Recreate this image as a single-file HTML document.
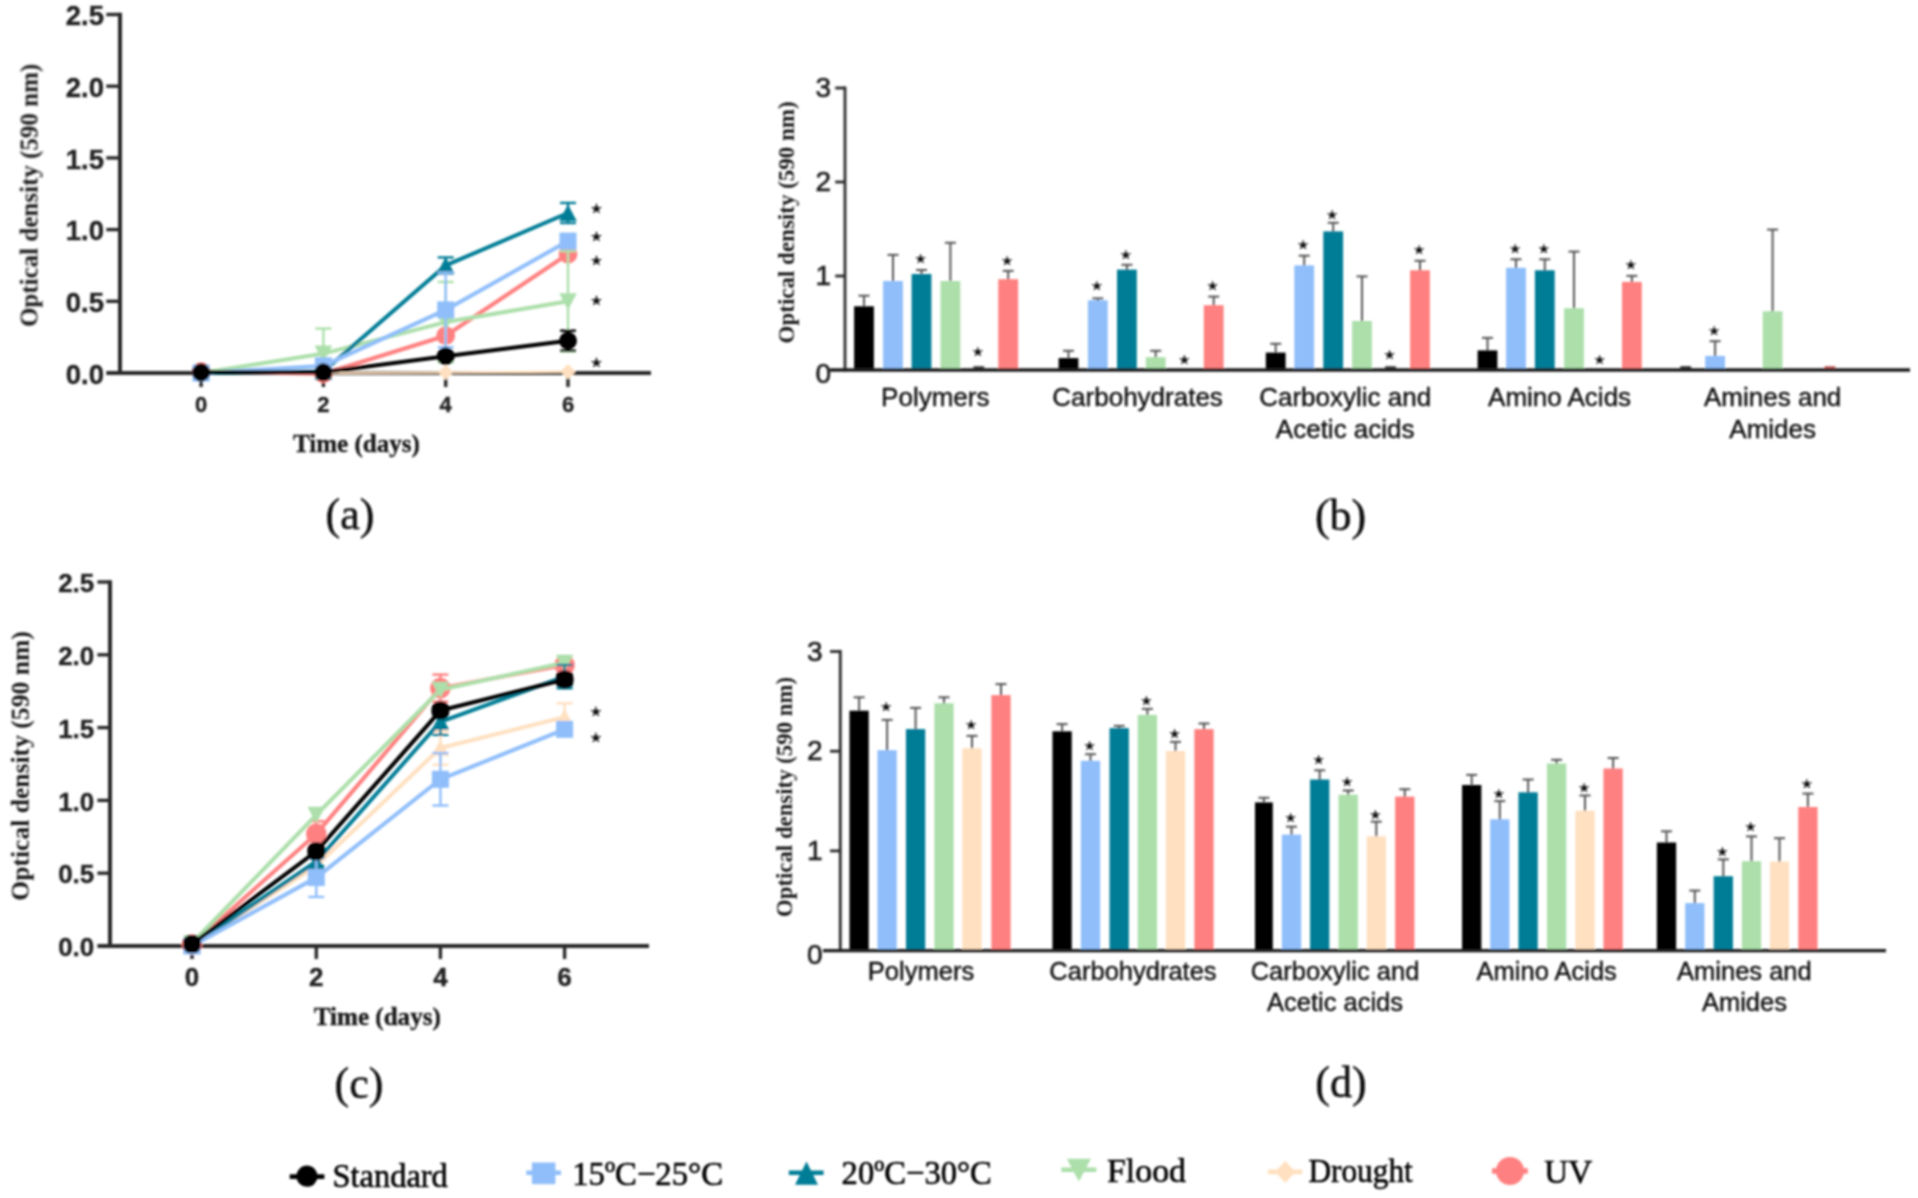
<!DOCTYPE html>
<html lang="en"><head><meta charset="utf-8"><title>Figure</title>
<style>html,body{margin:0;padding:0;background:#fff;}svg{display:block;}</style></head>
<body>
<svg width="1918" height="1198" viewBox="0 0 1918 1198">
<defs><filter id="soft" x="0" y="0" width="100%" height="100%" filterUnits="userSpaceOnUse"><feGaussianBlur stdDeviation="1.05"/></filter></defs>
<rect width="1918" height="1198" fill="#ffffff"/>
<g filter="url(#soft)">
<line x1="120" y1="12.8" x2="120" y2="375" stroke="#2b2b2b" stroke-width="4" stroke-linecap="butt"/>
<line x1="106.3" y1="373" x2="651" y2="373" stroke="#2b2b2b" stroke-width="4" stroke-linecap="butt"/>
<line x1="106.3" y1="301.3" x2="120" y2="301.3" stroke="#2b2b2b" stroke-width="3.4" stroke-linecap="butt"/>
<line x1="106.3" y1="229.6" x2="120" y2="229.6" stroke="#2b2b2b" stroke-width="3.4" stroke-linecap="butt"/>
<line x1="106.3" y1="157.9" x2="120" y2="157.9" stroke="#2b2b2b" stroke-width="3.4" stroke-linecap="butt"/>
<line x1="106.3" y1="86.2" x2="120" y2="86.2" stroke="#2b2b2b" stroke-width="3.4" stroke-linecap="butt"/>
<line x1="106.3" y1="14.5" x2="120" y2="14.5" stroke="#2b2b2b" stroke-width="3.4" stroke-linecap="butt"/>
<line x1="201.1" y1="373" x2="201.1" y2="387" stroke="#2b2b2b" stroke-width="3.4" stroke-linecap="butt"/>
<line x1="323.4" y1="373" x2="323.4" y2="387" stroke="#2b2b2b" stroke-width="3.4" stroke-linecap="butt"/>
<line x1="445.7" y1="373" x2="445.7" y2="387" stroke="#2b2b2b" stroke-width="3.4" stroke-linecap="butt"/>
<line x1="568" y1="373" x2="568" y2="387" stroke="#2b2b2b" stroke-width="3.4" stroke-linecap="butt"/>
<polyline points="201.1,371.57 323.4,373.72 445.7,335.72 568,253.98" fill="none" stroke="#FF8080" stroke-width="4" stroke-linejoin="round"/>
<circle cx="201.1" cy="371.57" r="9.4" fill="#FF8080"/>
<circle cx="323.4" cy="373.72" r="9.4" fill="#FF8080"/>
<circle cx="445.7" cy="335.72" r="9.4" fill="#FF8080"/>
<circle cx="568" cy="253.98" r="9.4" fill="#FF8080"/>
<polyline points="201.1,373 323.4,373 445.7,372.28 568,371.57" fill="none" stroke="#FFE0C0" stroke-width="2.2" stroke-linejoin="round"/>
<polygon points="201.1,365.4 208.7,373 201.1,380.6 193.5,373" fill="#FFE0C0"/>
<polygon points="323.4,365.4 331,373 323.4,380.6 315.8,373" fill="#FFE0C0"/>
<polygon points="445.7,364.68 453.3,372.28 445.7,379.88 438.1,372.28" fill="#FFE0C0"/>
<polygon points="568,363.97 575.6,371.57 568,379.17 560.4,371.57" fill="#FFE0C0"/>
<line x1="323.4" y1="328.55" x2="323.4" y2="378.74" stroke="#ACDFAA" stroke-width="2.4" stroke-linecap="butt"/>
<line x1="315.4" y1="328.55" x2="331.4" y2="328.55" stroke="#ACDFAA" stroke-width="2.4" stroke-linecap="butt"/>
<line x1="315.4" y1="378.74" x2="331.4" y2="378.74" stroke="#ACDFAA" stroke-width="2.4" stroke-linecap="butt"/>
<line x1="445.7" y1="281.94" x2="445.7" y2="362.25" stroke="#ACDFAA" stroke-width="2.4" stroke-linecap="butt"/>
<line x1="437.7" y1="281.94" x2="453.7" y2="281.94" stroke="#ACDFAA" stroke-width="2.4" stroke-linecap="butt"/>
<line x1="437.7" y1="362.25" x2="453.7" y2="362.25" stroke="#ACDFAA" stroke-width="2.4" stroke-linecap="butt"/>
<line x1="568" y1="251.11" x2="568" y2="351.49" stroke="#ACDFAA" stroke-width="2.4" stroke-linecap="butt"/>
<line x1="560" y1="251.11" x2="576" y2="251.11" stroke="#ACDFAA" stroke-width="2.4" stroke-linecap="butt"/>
<line x1="560" y1="351.49" x2="576" y2="351.49" stroke="#ACDFAA" stroke-width="2.4" stroke-linecap="butt"/>
<polyline points="201.1,373 323.4,353.64 445.7,322.09 568,301.3" fill="none" stroke="#ACDFAA" stroke-width="4" stroke-linejoin="round"/>
<polygon points="201.1,381.62 209.9,364.9 192.3,364.9" fill="#ACDFAA"/>
<polygon points="323.4,362.27 332.2,345.55 314.6,345.55" fill="#ACDFAA"/>
<polygon points="445.7,330.72 454.5,314 436.9,314" fill="#ACDFAA"/>
<polygon points="568,309.92 576.8,293.2 559.2,293.2" fill="#ACDFAA"/>
<line x1="445.7" y1="257.42" x2="445.7" y2="273.48" stroke="#057D96" stroke-width="2.4" stroke-linecap="butt"/>
<line x1="437.7" y1="257.42" x2="453.7" y2="257.42" stroke="#057D96" stroke-width="2.4" stroke-linecap="butt"/>
<line x1="437.7" y1="273.48" x2="453.7" y2="273.48" stroke="#057D96" stroke-width="2.4" stroke-linecap="butt"/>
<line x1="568" y1="202.93" x2="568" y2="223" stroke="#057D96" stroke-width="2.4" stroke-linecap="butt"/>
<line x1="560" y1="202.93" x2="576" y2="202.93" stroke="#057D96" stroke-width="2.4" stroke-linecap="butt"/>
<line x1="560" y1="223" x2="576" y2="223" stroke="#057D96" stroke-width="2.4" stroke-linecap="butt"/>
<polyline points="201.1,373 323.4,371.57 445.7,265.45 568,212.97" fill="none" stroke="#057D96" stroke-width="4" stroke-linejoin="round"/>
<polygon points="201.1,364.64 209.9,381.1 192.3,381.1" fill="#057D96"/>
<polygon points="323.4,363.21 332.2,379.66 314.6,379.66" fill="#057D96"/>
<polygon points="445.7,257.09 454.5,273.55 436.9,273.55" fill="#057D96"/>
<polygon points="568,204.61 576.8,221.06 559.2,221.06" fill="#057D96"/>
<line x1="445.7" y1="272.62" x2="445.7" y2="347.19" stroke="#8FBEFA" stroke-width="2.4" stroke-linecap="butt"/>
<line x1="437.7" y1="272.62" x2="453.7" y2="272.62" stroke="#8FBEFA" stroke-width="2.4" stroke-linecap="butt"/>
<line x1="437.7" y1="347.19" x2="453.7" y2="347.19" stroke="#8FBEFA" stroke-width="2.4" stroke-linecap="butt"/>
<polyline points="201.1,373 323.4,365.83 445.7,309.9 568,241.07" fill="none" stroke="#8FBEFA" stroke-width="4" stroke-linejoin="round"/>
<rect x="192.6" y="364.5" width="17" height="17" fill="#8FBEFA"/>
<rect x="314.9" y="357.33" width="17" height="17" fill="#8FBEFA"/>
<rect x="437.2" y="301.4" width="17" height="17" fill="#8FBEFA"/>
<rect x="559.5" y="232.57" width="17" height="17" fill="#8FBEFA"/>
<line x1="568" y1="330.7" x2="568" y2="350.77" stroke="#000000" stroke-width="2.4" stroke-linecap="butt"/>
<line x1="560" y1="330.7" x2="576" y2="330.7" stroke="#000000" stroke-width="2.4" stroke-linecap="butt"/>
<line x1="560" y1="350.77" x2="576" y2="350.77" stroke="#000000" stroke-width="2.4" stroke-linecap="butt"/>
<polyline points="201.1,372.28 323.4,372.28 445.7,356.22 568,340.74" fill="none" stroke="#000000" stroke-width="4" stroke-linejoin="round"/>
<circle cx="201.1" cy="372.28" r="9" fill="#000000"/>
<circle cx="323.4" cy="372.28" r="9" fill="#000000"/>
<circle cx="445.7" cy="356.22" r="9" fill="#000000"/>
<circle cx="568" cy="340.74" r="9" fill="#000000"/>
<text x="596.5" y="213.25" font-family="'DejaVu Sans', sans-serif" font-size="13.2" font-weight="normal" text-anchor="middle" fill="#111" stroke="#111" stroke-width="0.35">★</text>
<text x="596.5" y="240.75" font-family="'DejaVu Sans', sans-serif" font-size="13.2" font-weight="normal" text-anchor="middle" fill="#111" stroke="#111" stroke-width="0.35">★</text>
<text x="596.5" y="264.75" font-family="'DejaVu Sans', sans-serif" font-size="13.2" font-weight="normal" text-anchor="middle" fill="#111" stroke="#111" stroke-width="0.35">★</text>
<text x="596.5" y="304.75" font-family="'DejaVu Sans', sans-serif" font-size="13.2" font-weight="normal" text-anchor="middle" fill="#111" stroke="#111" stroke-width="0.35">★</text>
<text x="596.5" y="367.45" font-family="'DejaVu Sans', sans-serif" font-size="13.2" font-weight="normal" text-anchor="middle" fill="#111" stroke="#111" stroke-width="0.35">★</text>
<text x="104" y="383.8" font-family="'Liberation Sans', sans-serif" font-size="27.5" font-weight="bold" text-anchor="end" fill="#222222" stroke="#222222" stroke-width="0.35">0.0</text>
<text x="104" y="312.1" font-family="'Liberation Sans', sans-serif" font-size="27.5" font-weight="bold" text-anchor="end" fill="#222222" stroke="#222222" stroke-width="0.35">0.5</text>
<text x="104" y="240.4" font-family="'Liberation Sans', sans-serif" font-size="27.5" font-weight="bold" text-anchor="end" fill="#222222" stroke="#222222" stroke-width="0.35">1.0</text>
<text x="104" y="168.7" font-family="'Liberation Sans', sans-serif" font-size="27.5" font-weight="bold" text-anchor="end" fill="#222222" stroke="#222222" stroke-width="0.35">1.5</text>
<text x="104" y="97" font-family="'Liberation Sans', sans-serif" font-size="27.5" font-weight="bold" text-anchor="end" fill="#222222" stroke="#222222" stroke-width="0.35">2.0</text>
<text x="104" y="25.3" font-family="'Liberation Sans', sans-serif" font-size="27.5" font-weight="bold" text-anchor="end" fill="#222222" stroke="#222222" stroke-width="0.35">2.5</text>
<text x="201.1" y="412.2" font-family="'Liberation Sans', sans-serif" font-size="22" font-weight="bold" text-anchor="middle" fill="#222222" stroke="#222222" stroke-width="0.35">0</text>
<text x="323.4" y="412.2" font-family="'Liberation Sans', sans-serif" font-size="22" font-weight="bold" text-anchor="middle" fill="#222222" stroke="#222222" stroke-width="0.35">2</text>
<text x="445.7" y="412.2" font-family="'Liberation Sans', sans-serif" font-size="22" font-weight="bold" text-anchor="middle" fill="#222222" stroke="#222222" stroke-width="0.35">4</text>
<text x="568" y="412.2" font-family="'Liberation Sans', sans-serif" font-size="22" font-weight="bold" text-anchor="middle" fill="#222222" stroke="#222222" stroke-width="0.35">6</text>
<text x="356.4" y="451.7" font-family="'Liberation Serif', serif" font-size="25" font-weight="bold" text-anchor="middle" fill="#1a1a1a" textLength="127" lengthAdjust="spacingAndGlyphs" stroke="#1a1a1a" stroke-width="0.35">Time (days)</text>
<text transform="translate(37.6,195.4) rotate(-90)" font-family="'Liberation Serif', serif" font-size="25" font-weight="bold" text-anchor="middle" fill="#1a1a1a">Optical density (590 nm)</text>
<text x="350" y="528.5" font-family="'Liberation Serif', serif" font-size="44" font-weight="normal" text-anchor="middle" fill="#111" stroke="#111" stroke-width="0.5">(a)</text>
<line x1="110" y1="580.3" x2="110" y2="948" stroke="#2b2b2b" stroke-width="4" stroke-linecap="butt"/>
<line x1="97.4" y1="946" x2="649" y2="946" stroke="#2b2b2b" stroke-width="4" stroke-linecap="butt"/>
<line x1="97.4" y1="873.2" x2="110" y2="873.2" stroke="#2b2b2b" stroke-width="3.4" stroke-linecap="butt"/>
<line x1="97.4" y1="800.4" x2="110" y2="800.4" stroke="#2b2b2b" stroke-width="3.4" stroke-linecap="butt"/>
<line x1="97.4" y1="727.6" x2="110" y2="727.6" stroke="#2b2b2b" stroke-width="3.4" stroke-linecap="butt"/>
<line x1="97.4" y1="654.8" x2="110" y2="654.8" stroke="#2b2b2b" stroke-width="3.4" stroke-linecap="butt"/>
<line x1="97.4" y1="582" x2="110" y2="582" stroke="#2b2b2b" stroke-width="3.4" stroke-linecap="butt"/>
<line x1="192" y1="946" x2="192" y2="959" stroke="#2b2b2b" stroke-width="3.4" stroke-linecap="butt"/>
<line x1="316.3" y1="946" x2="316.3" y2="959" stroke="#2b2b2b" stroke-width="3.4" stroke-linecap="butt"/>
<line x1="440.4" y1="946" x2="440.4" y2="959" stroke="#2b2b2b" stroke-width="3.4" stroke-linecap="butt"/>
<line x1="564.6" y1="946" x2="564.6" y2="959" stroke="#2b2b2b" stroke-width="3.4" stroke-linecap="butt"/>
<line x1="316.3" y1="821.22" x2="316.3" y2="846.56" stroke="#FF8080" stroke-width="2.4" stroke-linecap="butt"/>
<line x1="308.3" y1="821.22" x2="324.3" y2="821.22" stroke="#FF8080" stroke-width="2.4" stroke-linecap="butt"/>
<line x1="308.3" y1="846.56" x2="324.3" y2="846.56" stroke="#FF8080" stroke-width="2.4" stroke-linecap="butt"/>
<line x1="440.4" y1="674.6" x2="440.4" y2="701.68" stroke="#FF8080" stroke-width="2.4" stroke-linecap="butt"/>
<line x1="432.4" y1="674.6" x2="448.4" y2="674.6" stroke="#FF8080" stroke-width="2.4" stroke-linecap="butt"/>
<line x1="432.4" y1="701.68" x2="448.4" y2="701.68" stroke="#FF8080" stroke-width="2.4" stroke-linecap="butt"/>
<polyline points="192,944.54 316.3,833.89 440.4,688.14 564.6,664.99" fill="none" stroke="#FF8080" stroke-width="4" stroke-linejoin="round"/>
<circle cx="192" cy="944.54" r="10.3" fill="#FF8080"/>
<circle cx="316.3" cy="833.89" r="10.3" fill="#FF8080"/>
<circle cx="440.4" cy="688.14" r="10.3" fill="#FF8080"/>
<circle cx="564.6" cy="664.99" r="10.3" fill="#FF8080"/>
<line x1="440.4" y1="731.24" x2="440.4" y2="764.73" stroke="#FFE0C0" stroke-width="2.4" stroke-linecap="butt"/>
<line x1="432.4" y1="731.24" x2="448.4" y2="731.24" stroke="#FFE0C0" stroke-width="2.4" stroke-linecap="butt"/>
<line x1="432.4" y1="764.73" x2="448.4" y2="764.73" stroke="#FFE0C0" stroke-width="2.4" stroke-linecap="butt"/>
<line x1="564.6" y1="703.28" x2="564.6" y2="730.95" stroke="#FFE0C0" stroke-width="2.4" stroke-linecap="butt"/>
<line x1="556.6" y1="703.28" x2="572.6" y2="703.28" stroke="#FFE0C0" stroke-width="2.4" stroke-linecap="butt"/>
<line x1="556.6" y1="730.95" x2="572.6" y2="730.95" stroke="#FFE0C0" stroke-width="2.4" stroke-linecap="butt"/>
<polyline points="192,946 316.3,865.92 440.4,747.98 564.6,717.12" fill="none" stroke="#FFE0C0" stroke-width="4" stroke-linejoin="round"/>
<polygon points="192,937.64 200.8,954.1 183.2,954.1" fill="#FFE0C0"/>
<polygon points="316.3,857.56 325.1,874.02 307.5,874.02" fill="#FFE0C0"/>
<polygon points="440.4,739.62 449.2,756.08 431.6,756.08" fill="#FFE0C0"/>
<polygon points="564.6,708.76 573.4,725.21 555.8,725.21" fill="#FFE0C0"/>
<polyline points="192,943.09 316.3,814.96 440.4,689.74 564.6,662.81" fill="none" stroke="#ACDFAA" stroke-width="4" stroke-linejoin="round"/>
<polygon points="192,951.71 200.8,934.99 183.2,934.99" fill="#ACDFAA"/>
<polygon points="316.3,823.58 325.1,806.86 307.5,806.86" fill="#ACDFAA"/>
<polygon points="440.4,698.37 449.2,681.65 431.6,681.65" fill="#ACDFAA"/>
<polygon points="564.6,671.43 573.4,654.71 555.8,654.71" fill="#ACDFAA"/>
<line x1="316.3" y1="857.18" x2="316.3" y2="865.92" stroke="#057D96" stroke-width="2.4" stroke-linecap="butt"/>
<line x1="308.3" y1="857.18" x2="324.3" y2="857.18" stroke="#057D96" stroke-width="2.4" stroke-linecap="butt"/>
<line x1="308.3" y1="865.92" x2="324.3" y2="865.92" stroke="#057D96" stroke-width="2.4" stroke-linecap="butt"/>
<line x1="440.4" y1="708.67" x2="440.4" y2="734.88" stroke="#057D96" stroke-width="2.4" stroke-linecap="butt"/>
<line x1="432.4" y1="708.67" x2="448.4" y2="708.67" stroke="#057D96" stroke-width="2.4" stroke-linecap="butt"/>
<line x1="432.4" y1="734.88" x2="448.4" y2="734.88" stroke="#057D96" stroke-width="2.4" stroke-linecap="butt"/>
<line x1="564.6" y1="664.99" x2="564.6" y2="688.29" stroke="#057D96" stroke-width="2.4" stroke-linecap="butt"/>
<line x1="556.6" y1="664.99" x2="572.6" y2="664.99" stroke="#057D96" stroke-width="2.4" stroke-linecap="butt"/>
<line x1="556.6" y1="688.29" x2="572.6" y2="688.29" stroke="#057D96" stroke-width="2.4" stroke-linecap="butt"/>
<polyline points="192,946 316.3,861.55 440.4,721.78 564.6,676.64" fill="none" stroke="#057D96" stroke-width="4" stroke-linejoin="round"/>
<polygon points="192,937.64 200.8,954.1 183.2,954.1" fill="#057D96"/>
<polygon points="316.3,853.19 325.1,869.65 307.5,869.65" fill="#057D96"/>
<polygon points="440.4,713.42 449.2,729.87 431.6,729.87" fill="#057D96"/>
<polygon points="564.6,668.28 573.4,684.74 555.8,684.74" fill="#057D96"/>
<line x1="316.3" y1="858.2" x2="316.3" y2="896.93" stroke="#8FBEFA" stroke-width="2.4" stroke-linecap="butt"/>
<line x1="308.3" y1="858.2" x2="324.3" y2="858.2" stroke="#8FBEFA" stroke-width="2.4" stroke-linecap="butt"/>
<line x1="308.3" y1="896.93" x2="324.3" y2="896.93" stroke="#8FBEFA" stroke-width="2.4" stroke-linecap="butt"/>
<line x1="440.4" y1="753.08" x2="440.4" y2="805.5" stroke="#8FBEFA" stroke-width="2.4" stroke-linecap="butt"/>
<line x1="432.4" y1="753.08" x2="448.4" y2="753.08" stroke="#8FBEFA" stroke-width="2.4" stroke-linecap="butt"/>
<line x1="432.4" y1="805.5" x2="448.4" y2="805.5" stroke="#8FBEFA" stroke-width="2.4" stroke-linecap="butt"/>
<polyline points="192,946 316.3,877.57 440.4,779.29 564.6,729.35" fill="none" stroke="#8FBEFA" stroke-width="4" stroke-linejoin="round"/>
<rect x="183.5" y="937.5" width="17" height="17" fill="#8FBEFA"/>
<rect x="307.8" y="869.07" width="17" height="17" fill="#8FBEFA"/>
<rect x="431.9" y="770.79" width="17" height="17" fill="#8FBEFA"/>
<rect x="556.1" y="720.85" width="17" height="17" fill="#8FBEFA"/>
<line x1="564.6" y1="673.73" x2="564.6" y2="685.38" stroke="#000000" stroke-width="2.4" stroke-linecap="butt"/>
<line x1="556.6" y1="673.73" x2="572.6" y2="673.73" stroke="#000000" stroke-width="2.4" stroke-linecap="butt"/>
<line x1="556.6" y1="685.38" x2="572.6" y2="685.38" stroke="#000000" stroke-width="2.4" stroke-linecap="butt"/>
<polyline points="192,944.11 316.3,851.36 440.4,710.56 564.6,679.55" fill="none" stroke="#000000" stroke-width="4" stroke-linejoin="round"/>
<rect x="183" y="935.11" width="18" height="18" rx="7.5" fill="#000000"/>
<rect x="307.3" y="842.36" width="18" height="18" rx="7.5" fill="#000000"/>
<rect x="431.4" y="701.56" width="18" height="18" rx="7.5" fill="#000000"/>
<rect x="555.6" y="670.55" width="18" height="18" rx="7.5" fill="#000000"/>
<text x="596" y="716.15" font-family="'DejaVu Sans', sans-serif" font-size="13.2" font-weight="normal" text-anchor="middle" fill="#111" stroke="#111" stroke-width="0.35">★</text>
<text x="596" y="741.75" font-family="'DejaVu Sans', sans-serif" font-size="13.2" font-weight="normal" text-anchor="middle" fill="#111" stroke="#111" stroke-width="0.35">★</text>
<text x="94.3" y="956.2" font-family="'Liberation Sans', sans-serif" font-size="26" font-weight="bold" text-anchor="end" fill="#222222" stroke="#222222" stroke-width="0.35">0.0</text>
<text x="94.3" y="883.4" font-family="'Liberation Sans', sans-serif" font-size="26" font-weight="bold" text-anchor="end" fill="#222222" stroke="#222222" stroke-width="0.35">0.5</text>
<text x="94.3" y="810.6" font-family="'Liberation Sans', sans-serif" font-size="26" font-weight="bold" text-anchor="end" fill="#222222" stroke="#222222" stroke-width="0.35">1.0</text>
<text x="94.3" y="737.8" font-family="'Liberation Sans', sans-serif" font-size="26" font-weight="bold" text-anchor="end" fill="#222222" stroke="#222222" stroke-width="0.35">1.5</text>
<text x="94.3" y="665" font-family="'Liberation Sans', sans-serif" font-size="26" font-weight="bold" text-anchor="end" fill="#222222" stroke="#222222" stroke-width="0.35">2.0</text>
<text x="94.3" y="592.2" font-family="'Liberation Sans', sans-serif" font-size="26" font-weight="bold" text-anchor="end" fill="#222222" stroke="#222222" stroke-width="0.35">2.5</text>
<text x="192" y="986.3" font-family="'Liberation Sans', sans-serif" font-size="26" font-weight="bold" text-anchor="middle" fill="#222222" stroke="#222222" stroke-width="0.35">0</text>
<text x="316.3" y="986.3" font-family="'Liberation Sans', sans-serif" font-size="26" font-weight="bold" text-anchor="middle" fill="#222222" stroke="#222222" stroke-width="0.35">2</text>
<text x="440.4" y="986.3" font-family="'Liberation Sans', sans-serif" font-size="26" font-weight="bold" text-anchor="middle" fill="#222222" stroke="#222222" stroke-width="0.35">4</text>
<text x="564.6" y="986.3" font-family="'Liberation Sans', sans-serif" font-size="26" font-weight="bold" text-anchor="middle" fill="#222222" stroke="#222222" stroke-width="0.35">6</text>
<text x="377.3" y="1025.1" font-family="'Liberation Serif', serif" font-size="25" font-weight="bold" text-anchor="middle" fill="#1a1a1a" textLength="127" lengthAdjust="spacingAndGlyphs" stroke="#1a1a1a" stroke-width="0.35">Time (days)</text>
<text transform="translate(28.8,766) rotate(-90)" font-family="'Liberation Serif', serif" font-size="25.6" font-weight="bold" text-anchor="middle" fill="#1a1a1a">Optical density (590 nm)</text>
<text x="359" y="1097.6" font-family="'Liberation Serif', serif" font-size="44" font-weight="normal" text-anchor="middle" fill="#111" stroke="#111" stroke-width="0.5">(c)</text>
<line x1="864" y1="295.7" x2="864" y2="307.3" stroke="#555555" stroke-width="2" stroke-linecap="butt"/>
<line x1="858.5" y1="295.7" x2="869.5" y2="295.7" stroke="#555555" stroke-width="2" stroke-linecap="butt"/>
<rect x="854.1" y="306.3" width="19.8" height="63.7" fill="#000000"/>
<line x1="893" y1="254.9" x2="893" y2="282" stroke="#555555" stroke-width="2" stroke-linecap="butt"/>
<line x1="887.5" y1="254.9" x2="898.5" y2="254.9" stroke="#555555" stroke-width="2" stroke-linecap="butt"/>
<rect x="883.1" y="281" width="19.8" height="89" fill="#8FBEFA"/>
<line x1="921.5" y1="270" x2="921.5" y2="275" stroke="#555555" stroke-width="2" stroke-linecap="butt"/>
<line x1="916" y1="270" x2="927" y2="270" stroke="#555555" stroke-width="2" stroke-linecap="butt"/>
<rect x="911.6" y="274" width="19.8" height="96" fill="#057D96"/>
<line x1="950.4" y1="242.8" x2="950.4" y2="282" stroke="#555555" stroke-width="2" stroke-linecap="butt"/>
<line x1="944.9" y1="242.8" x2="955.9" y2="242.8" stroke="#555555" stroke-width="2" stroke-linecap="butt"/>
<rect x="940.5" y="281" width="19.8" height="89" fill="#ACDFAA"/>
<line x1="1008.2" y1="270.9" x2="1008.2" y2="280.2" stroke="#555555" stroke-width="2" stroke-linecap="butt"/>
<line x1="1002.7" y1="270.9" x2="1013.7" y2="270.9" stroke="#555555" stroke-width="2" stroke-linecap="butt"/>
<rect x="998.3" y="279.2" width="19.8" height="90.8" fill="#FF8080"/>
<line x1="1068.5" y1="350.8" x2="1068.5" y2="359.1" stroke="#555555" stroke-width="2" stroke-linecap="butt"/>
<line x1="1063" y1="350.8" x2="1074" y2="350.8" stroke="#555555" stroke-width="2" stroke-linecap="butt"/>
<rect x="1058.6" y="358.1" width="19.8" height="11.9" fill="#000000"/>
<line x1="1097.8" y1="298.4" x2="1097.8" y2="301.3" stroke="#555555" stroke-width="2" stroke-linecap="butt"/>
<line x1="1092.3" y1="298.4" x2="1103.3" y2="298.4" stroke="#555555" stroke-width="2" stroke-linecap="butt"/>
<rect x="1087.9" y="300.3" width="19.8" height="69.7" fill="#8FBEFA"/>
<line x1="1126.9" y1="264.8" x2="1126.9" y2="270.6" stroke="#555555" stroke-width="2" stroke-linecap="butt"/>
<line x1="1121.4" y1="264.8" x2="1132.4" y2="264.8" stroke="#555555" stroke-width="2" stroke-linecap="butt"/>
<rect x="1117" y="269.6" width="19.8" height="100.4" fill="#057D96"/>
<line x1="1155.7" y1="350.8" x2="1155.7" y2="358.2" stroke="#555555" stroke-width="2" stroke-linecap="butt"/>
<line x1="1150.2" y1="350.8" x2="1161.2" y2="350.8" stroke="#555555" stroke-width="2" stroke-linecap="butt"/>
<rect x="1145.8" y="357.2" width="19.8" height="12.8" fill="#ACDFAA"/>
<line x1="1213.7" y1="296.6" x2="1213.7" y2="306.2" stroke="#555555" stroke-width="2" stroke-linecap="butt"/>
<line x1="1208.2" y1="296.6" x2="1219.2" y2="296.6" stroke="#555555" stroke-width="2" stroke-linecap="butt"/>
<rect x="1203.8" y="305.2" width="19.8" height="64.8" fill="#FF8080"/>
<line x1="1275.7" y1="343.8" x2="1275.7" y2="353.6" stroke="#555555" stroke-width="2" stroke-linecap="butt"/>
<line x1="1270.2" y1="343.8" x2="1281.2" y2="343.8" stroke="#555555" stroke-width="2" stroke-linecap="butt"/>
<rect x="1265.8" y="352.6" width="19.8" height="17.4" fill="#000000"/>
<line x1="1304.2" y1="255.7" x2="1304.2" y2="266.4" stroke="#555555" stroke-width="2" stroke-linecap="butt"/>
<line x1="1298.7" y1="255.7" x2="1309.7" y2="255.7" stroke="#555555" stroke-width="2" stroke-linecap="butt"/>
<rect x="1294.3" y="265.4" width="19.8" height="104.6" fill="#8FBEFA"/>
<line x1="1333.2" y1="222.8" x2="1333.2" y2="232.4" stroke="#555555" stroke-width="2" stroke-linecap="butt"/>
<line x1="1327.7" y1="222.8" x2="1338.7" y2="222.8" stroke="#555555" stroke-width="2" stroke-linecap="butt"/>
<rect x="1323.3" y="231.4" width="19.8" height="138.6" fill="#057D96"/>
<line x1="1362" y1="276.4" x2="1362" y2="322" stroke="#555555" stroke-width="2" stroke-linecap="butt"/>
<line x1="1356.5" y1="276.4" x2="1367.5" y2="276.4" stroke="#555555" stroke-width="2" stroke-linecap="butt"/>
<rect x="1352.1" y="321" width="19.8" height="49" fill="#ACDFAA"/>
<line x1="1420" y1="260.8" x2="1420" y2="271.3" stroke="#555555" stroke-width="2" stroke-linecap="butt"/>
<line x1="1414.5" y1="260.8" x2="1425.5" y2="260.8" stroke="#555555" stroke-width="2" stroke-linecap="butt"/>
<rect x="1410.1" y="270.3" width="19.8" height="99.7" fill="#FF8080"/>
<line x1="1487.5" y1="337.9" x2="1487.5" y2="351.4" stroke="#555555" stroke-width="2" stroke-linecap="butt"/>
<line x1="1482" y1="337.9" x2="1493" y2="337.9" stroke="#555555" stroke-width="2" stroke-linecap="butt"/>
<rect x="1477.6" y="350.4" width="19.8" height="19.6" fill="#000000"/>
<line x1="1516" y1="259.3" x2="1516" y2="268.8" stroke="#555555" stroke-width="2" stroke-linecap="butt"/>
<line x1="1510.5" y1="259.3" x2="1521.5" y2="259.3" stroke="#555555" stroke-width="2" stroke-linecap="butt"/>
<rect x="1506.1" y="267.8" width="19.8" height="102.2" fill="#8FBEFA"/>
<line x1="1544.8" y1="259.3" x2="1544.8" y2="271.3" stroke="#555555" stroke-width="2" stroke-linecap="butt"/>
<line x1="1539.3" y1="259.3" x2="1550.3" y2="259.3" stroke="#555555" stroke-width="2" stroke-linecap="butt"/>
<rect x="1534.9" y="270.3" width="19.8" height="99.7" fill="#057D96"/>
<line x1="1574" y1="251.6" x2="1574" y2="309.2" stroke="#555555" stroke-width="2" stroke-linecap="butt"/>
<line x1="1568.5" y1="251.6" x2="1579.5" y2="251.6" stroke="#555555" stroke-width="2" stroke-linecap="butt"/>
<rect x="1564.1" y="308.2" width="19.8" height="61.8" fill="#ACDFAA"/>
<line x1="1631.9" y1="275.9" x2="1631.9" y2="282.9" stroke="#555555" stroke-width="2" stroke-linecap="butt"/>
<line x1="1626.4" y1="275.9" x2="1637.4" y2="275.9" stroke="#555555" stroke-width="2" stroke-linecap="butt"/>
<rect x="1622" y="281.9" width="19.8" height="88.1" fill="#FF8080"/>
<line x1="1715.1" y1="341.2" x2="1715.1" y2="356.9" stroke="#555555" stroke-width="2" stroke-linecap="butt"/>
<line x1="1709.6" y1="341.2" x2="1720.6" y2="341.2" stroke="#555555" stroke-width="2" stroke-linecap="butt"/>
<rect x="1705.2" y="355.9" width="19.8" height="14.1" fill="#8FBEFA"/>
<line x1="1772.6" y1="229.6" x2="1772.6" y2="312.3" stroke="#555555" stroke-width="2" stroke-linecap="butt"/>
<line x1="1767.1" y1="229.6" x2="1778.1" y2="229.6" stroke="#555555" stroke-width="2" stroke-linecap="butt"/>
<rect x="1762.7" y="311.3" width="19.8" height="58.7" fill="#ACDFAA"/>
<line x1="974.3" y1="367.4" x2="983.3" y2="367.4" stroke="#333" stroke-width="2.2" stroke-linecap="round"/>
<line x1="1386" y1="367.4" x2="1395" y2="367.4" stroke="#333" stroke-width="2.2" stroke-linecap="round"/>
<line x1="1681.2" y1="367.4" x2="1690.2" y2="367.4" stroke="#222" stroke-width="2.2" stroke-linecap="round"/>
<line x1="1825.4" y1="367.4" x2="1834.4" y2="367.4" stroke="#c05050" stroke-width="2.2" stroke-linecap="round"/>
<line x1="845" y1="86.6" x2="845" y2="371.5" stroke="#333" stroke-width="2.9" stroke-linecap="butt"/>
<line x1="830" y1="370" x2="1910" y2="370" stroke="#1c1c1c" stroke-width="3.4" stroke-linecap="butt"/>
<line x1="835.2" y1="276" x2="845" y2="276" stroke="#2b2b2b" stroke-width="2.8" stroke-linecap="butt"/>
<line x1="835.2" y1="182" x2="845" y2="182" stroke="#2b2b2b" stroke-width="2.8" stroke-linecap="butt"/>
<line x1="835.2" y1="88" x2="845" y2="88" stroke="#2b2b2b" stroke-width="2.8" stroke-linecap="butt"/>
<text x="920.5" y="263.1" font-family="'DejaVu Sans', sans-serif" font-size="12.5" font-weight="normal" text-anchor="middle" fill="#111" stroke="#111" stroke-width="0.35">★</text>
<text x="977.8" y="356.2" font-family="'DejaVu Sans', sans-serif" font-size="12.5" font-weight="normal" text-anchor="middle" fill="#111" stroke="#111" stroke-width="0.35">★</text>
<text x="1007.2" y="264.9" font-family="'DejaVu Sans', sans-serif" font-size="12.5" font-weight="normal" text-anchor="middle" fill="#111" stroke="#111" stroke-width="0.35">★</text>
<text x="1096.8" y="290.1" font-family="'DejaVu Sans', sans-serif" font-size="12.5" font-weight="normal" text-anchor="middle" fill="#111" stroke="#111" stroke-width="0.35">★</text>
<text x="1125.9" y="258.9" font-family="'DejaVu Sans', sans-serif" font-size="12.5" font-weight="normal" text-anchor="middle" fill="#111" stroke="#111" stroke-width="0.35">★</text>
<text x="1184.4" y="363.5" font-family="'DejaVu Sans', sans-serif" font-size="12.5" font-weight="normal" text-anchor="middle" fill="#111" stroke="#111" stroke-width="0.35">★</text>
<text x="1212.7" y="290.1" font-family="'DejaVu Sans', sans-serif" font-size="12.5" font-weight="normal" text-anchor="middle" fill="#111" stroke="#111" stroke-width="0.35">★</text>
<text x="1303.2" y="248.8" font-family="'DejaVu Sans', sans-serif" font-size="12.5" font-weight="normal" text-anchor="middle" fill="#111" stroke="#111" stroke-width="0.35">★</text>
<text x="1332.2" y="218.5" font-family="'DejaVu Sans', sans-serif" font-size="12.5" font-weight="normal" text-anchor="middle" fill="#111" stroke="#111" stroke-width="0.35">★</text>
<text x="1389.5" y="358.9" font-family="'DejaVu Sans', sans-serif" font-size="12.5" font-weight="normal" text-anchor="middle" fill="#111" stroke="#111" stroke-width="0.35">★</text>
<text x="1419" y="253.9" font-family="'DejaVu Sans', sans-serif" font-size="12.5" font-weight="normal" text-anchor="middle" fill="#111" stroke="#111" stroke-width="0.35">★</text>
<text x="1515" y="252.5" font-family="'DejaVu Sans', sans-serif" font-size="12.5" font-weight="normal" text-anchor="middle" fill="#111" stroke="#111" stroke-width="0.35">★</text>
<text x="1543.8" y="252.8" font-family="'DejaVu Sans', sans-serif" font-size="12.5" font-weight="normal" text-anchor="middle" fill="#111" stroke="#111" stroke-width="0.35">★</text>
<text x="1599.5" y="363.5" font-family="'DejaVu Sans', sans-serif" font-size="12.5" font-weight="normal" text-anchor="middle" fill="#111" stroke="#111" stroke-width="0.35">★</text>
<text x="1630.9" y="268.6" font-family="'DejaVu Sans', sans-serif" font-size="12.5" font-weight="normal" text-anchor="middle" fill="#111" stroke="#111" stroke-width="0.35">★</text>
<text x="1714.1" y="335.1" font-family="'DejaVu Sans', sans-serif" font-size="12.5" font-weight="normal" text-anchor="middle" fill="#111" stroke="#111" stroke-width="0.35">★</text>
<text x="831" y="382.7" font-family="'Liberation Sans', sans-serif" font-size="28" font-weight="normal" text-anchor="end" fill="#1c1c1c" stroke="#1c1c1c" stroke-width="0.6">0</text>
<text x="831" y="285.4" font-family="'Liberation Sans', sans-serif" font-size="28" font-weight="normal" text-anchor="end" fill="#1c1c1c" stroke="#1c1c1c" stroke-width="0.6">1</text>
<text x="831" y="191.4" font-family="'Liberation Sans', sans-serif" font-size="28" font-weight="normal" text-anchor="end" fill="#1c1c1c" stroke="#1c1c1c" stroke-width="0.6">2</text>
<text x="831" y="97.4" font-family="'Liberation Sans', sans-serif" font-size="28" font-weight="normal" text-anchor="end" fill="#1c1c1c" stroke="#1c1c1c" stroke-width="0.6">3</text>
<text x="935.3" y="406" font-family="'Liberation Sans', sans-serif" font-size="26" font-weight="normal" text-anchor="middle" fill="#111" stroke="#111" stroke-width="0.4">Polymers</text>
<text x="1137.6" y="406" font-family="'Liberation Sans', sans-serif" font-size="26" font-weight="normal" text-anchor="middle" fill="#111" stroke="#111" stroke-width="0.4">Carbohydrates</text>
<text x="1345.2" y="406" font-family="'Liberation Sans', sans-serif" font-size="26" font-weight="normal" text-anchor="middle" fill="#111" stroke="#111" stroke-width="0.4">Carboxylic and</text>
<text x="1345.2" y="437.5" font-family="'Liberation Sans', sans-serif" font-size="26" font-weight="normal" text-anchor="middle" fill="#111" stroke="#111" stroke-width="0.4">Acetic acids</text>
<text x="1559.6" y="406" font-family="'Liberation Sans', sans-serif" font-size="26" font-weight="normal" text-anchor="middle" fill="#111" stroke="#111" stroke-width="0.4">Amino Acids</text>
<text x="1772.7" y="406" font-family="'Liberation Sans', sans-serif" font-size="26" font-weight="normal" text-anchor="middle" fill="#111" stroke="#111" stroke-width="0.4">Amines and</text>
<text x="1772.7" y="437.5" font-family="'Liberation Sans', sans-serif" font-size="26" font-weight="normal" text-anchor="middle" fill="#111" stroke="#111" stroke-width="0.4">Amides</text>
<text transform="translate(793.6,222.4) rotate(-90)" font-family="'Liberation Serif', serif" font-size="23" font-weight="bold" text-anchor="middle" fill="#1a1a1a">Optical density (590 nm)</text>
<text x="1340.6" y="530.2" font-family="'Liberation Serif', serif" font-size="44" font-weight="normal" text-anchor="middle" fill="#111" stroke="#111" stroke-width="0.5">(b)</text>
<line x1="859.1" y1="697.3" x2="859.1" y2="711.7" stroke="#555555" stroke-width="2" stroke-linecap="butt"/>
<line x1="853.6" y1="697.3" x2="864.6" y2="697.3" stroke="#555555" stroke-width="2" stroke-linecap="butt"/>
<rect x="849.45" y="710.7" width="19.3" height="239.9" fill="#000000"/>
<line x1="887.1" y1="719.9" x2="887.1" y2="751.2" stroke="#555555" stroke-width="2" stroke-linecap="butt"/>
<line x1="881.6" y1="719.9" x2="892.6" y2="719.9" stroke="#555555" stroke-width="2" stroke-linecap="butt"/>
<rect x="877.45" y="750.2" width="19.3" height="200.4" fill="#8FBEFA"/>
<line x1="915.6" y1="707.9" x2="915.6" y2="730.1" stroke="#555555" stroke-width="2" stroke-linecap="butt"/>
<line x1="910.1" y1="707.9" x2="921.1" y2="707.9" stroke="#555555" stroke-width="2" stroke-linecap="butt"/>
<rect x="905.95" y="729.1" width="19.3" height="221.5" fill="#057D96"/>
<line x1="944" y1="697.3" x2="944" y2="704.3" stroke="#555555" stroke-width="2" stroke-linecap="butt"/>
<line x1="938.5" y1="697.3" x2="949.5" y2="697.3" stroke="#555555" stroke-width="2" stroke-linecap="butt"/>
<rect x="934.35" y="703.3" width="19.3" height="247.3" fill="#ACDFAA"/>
<line x1="972" y1="735.9" x2="972" y2="749.3" stroke="#555555" stroke-width="2" stroke-linecap="butt"/>
<line x1="966.5" y1="735.9" x2="977.5" y2="735.9" stroke="#555555" stroke-width="2" stroke-linecap="butt"/>
<rect x="962.35" y="748.3" width="19.3" height="202.3" fill="#FFE0C0"/>
<line x1="1001" y1="684.1" x2="1001" y2="696.1" stroke="#555555" stroke-width="2" stroke-linecap="butt"/>
<line x1="995.5" y1="684.1" x2="1006.5" y2="684.1" stroke="#555555" stroke-width="2" stroke-linecap="butt"/>
<rect x="991.35" y="695.1" width="19.3" height="255.5" fill="#FF8080"/>
<line x1="1062.1" y1="724.1" x2="1062.1" y2="732.3" stroke="#555555" stroke-width="2" stroke-linecap="butt"/>
<line x1="1056.6" y1="724.1" x2="1067.6" y2="724.1" stroke="#555555" stroke-width="2" stroke-linecap="butt"/>
<rect x="1052.45" y="731.3" width="19.3" height="219.3" fill="#000000"/>
<line x1="1090.5" y1="754.2" x2="1090.5" y2="761.8" stroke="#555555" stroke-width="2" stroke-linecap="butt"/>
<line x1="1085" y1="754.2" x2="1096" y2="754.2" stroke="#555555" stroke-width="2" stroke-linecap="butt"/>
<rect x="1080.85" y="760.8" width="19.3" height="189.8" fill="#8FBEFA"/>
<line x1="1119.2" y1="725.9" x2="1119.2" y2="729.1" stroke="#555555" stroke-width="2" stroke-linecap="butt"/>
<line x1="1113.7" y1="725.9" x2="1124.7" y2="725.9" stroke="#555555" stroke-width="2" stroke-linecap="butt"/>
<rect x="1109.55" y="728.1" width="19.3" height="222.5" fill="#057D96"/>
<line x1="1147.4" y1="708.9" x2="1147.4" y2="715.9" stroke="#555555" stroke-width="2" stroke-linecap="butt"/>
<line x1="1141.9" y1="708.9" x2="1152.9" y2="708.9" stroke="#555555" stroke-width="2" stroke-linecap="butt"/>
<rect x="1137.75" y="714.9" width="19.3" height="235.7" fill="#ACDFAA"/>
<line x1="1175.5" y1="741.9" x2="1175.5" y2="752.1" stroke="#555555" stroke-width="2" stroke-linecap="butt"/>
<line x1="1170" y1="741.9" x2="1181" y2="741.9" stroke="#555555" stroke-width="2" stroke-linecap="butt"/>
<rect x="1165.85" y="751.1" width="19.3" height="199.5" fill="#FFE0C0"/>
<line x1="1204" y1="723.5" x2="1204" y2="730.1" stroke="#555555" stroke-width="2" stroke-linecap="butt"/>
<line x1="1198.5" y1="723.5" x2="1209.5" y2="723.5" stroke="#555555" stroke-width="2" stroke-linecap="butt"/>
<rect x="1194.35" y="729.1" width="19.3" height="221.5" fill="#FF8080"/>
<line x1="1263.9" y1="797.8" x2="1263.9" y2="803.4" stroke="#555555" stroke-width="2" stroke-linecap="butt"/>
<line x1="1258.4" y1="797.8" x2="1269.4" y2="797.8" stroke="#555555" stroke-width="2" stroke-linecap="butt"/>
<rect x="1255" y="802.4" width="17.8" height="148.2" fill="#000000"/>
<line x1="1291.5" y1="826.7" x2="1291.5" y2="835.6" stroke="#555555" stroke-width="2" stroke-linecap="butt"/>
<line x1="1286" y1="826.7" x2="1297" y2="826.7" stroke="#555555" stroke-width="2" stroke-linecap="butt"/>
<rect x="1281.85" y="834.6" width="19.3" height="116" fill="#8FBEFA"/>
<line x1="1319.7" y1="770.3" x2="1319.7" y2="780.5" stroke="#555555" stroke-width="2" stroke-linecap="butt"/>
<line x1="1314.2" y1="770.3" x2="1325.2" y2="770.3" stroke="#555555" stroke-width="2" stroke-linecap="butt"/>
<rect x="1310.05" y="779.5" width="19.3" height="171.1" fill="#057D96"/>
<line x1="1348.2" y1="790.5" x2="1348.2" y2="795.7" stroke="#555555" stroke-width="2" stroke-linecap="butt"/>
<line x1="1342.7" y1="790.5" x2="1353.7" y2="790.5" stroke="#555555" stroke-width="2" stroke-linecap="butt"/>
<rect x="1338.55" y="794.7" width="19.3" height="155.9" fill="#ACDFAA"/>
<line x1="1376.3" y1="821.7" x2="1376.3" y2="837.4" stroke="#555555" stroke-width="2" stroke-linecap="butt"/>
<line x1="1370.8" y1="821.7" x2="1381.8" y2="821.7" stroke="#555555" stroke-width="2" stroke-linecap="butt"/>
<rect x="1366.65" y="836.4" width="19.3" height="114.2" fill="#FFE0C0"/>
<line x1="1404.8" y1="789.2" x2="1404.8" y2="797.6" stroke="#555555" stroke-width="2" stroke-linecap="butt"/>
<line x1="1399.3" y1="789.2" x2="1410.3" y2="789.2" stroke="#555555" stroke-width="2" stroke-linecap="butt"/>
<rect x="1395.15" y="796.6" width="19.3" height="154" fill="#FF8080"/>
<line x1="1471.7" y1="774.9" x2="1471.7" y2="786" stroke="#555555" stroke-width="2" stroke-linecap="butt"/>
<line x1="1466.2" y1="774.9" x2="1477.2" y2="774.9" stroke="#555555" stroke-width="2" stroke-linecap="butt"/>
<rect x="1462.05" y="785" width="19.3" height="165.6" fill="#000000"/>
<line x1="1499.8" y1="801.1" x2="1499.8" y2="820.3" stroke="#555555" stroke-width="2" stroke-linecap="butt"/>
<line x1="1494.3" y1="801.1" x2="1505.3" y2="801.1" stroke="#555555" stroke-width="2" stroke-linecap="butt"/>
<rect x="1490.15" y="819.3" width="19.3" height="131.3" fill="#8FBEFA"/>
<line x1="1528.1" y1="779.5" x2="1528.1" y2="793.3" stroke="#555555" stroke-width="2" stroke-linecap="butt"/>
<line x1="1522.6" y1="779.5" x2="1533.6" y2="779.5" stroke="#555555" stroke-width="2" stroke-linecap="butt"/>
<rect x="1518.45" y="792.3" width="19.3" height="158.3" fill="#057D96"/>
<line x1="1556.6" y1="759.8" x2="1556.6" y2="764.5" stroke="#555555" stroke-width="2" stroke-linecap="butt"/>
<line x1="1551.1" y1="759.8" x2="1562.1" y2="759.8" stroke="#555555" stroke-width="2" stroke-linecap="butt"/>
<rect x="1546.95" y="763.5" width="19.3" height="187.1" fill="#ACDFAA"/>
<line x1="1585" y1="795.5" x2="1585" y2="811.7" stroke="#555555" stroke-width="2" stroke-linecap="butt"/>
<line x1="1579.5" y1="795.5" x2="1590.5" y2="795.5" stroke="#555555" stroke-width="2" stroke-linecap="butt"/>
<rect x="1575.35" y="810.7" width="19.3" height="139.9" fill="#FFE0C0"/>
<line x1="1613.1" y1="758" x2="1613.1" y2="769.5" stroke="#555555" stroke-width="2" stroke-linecap="butt"/>
<line x1="1607.6" y1="758" x2="1618.6" y2="758" stroke="#555555" stroke-width="2" stroke-linecap="butt"/>
<rect x="1603.45" y="768.5" width="19.3" height="182.1" fill="#FF8080"/>
<line x1="1666.5" y1="831.3" x2="1666.5" y2="843.5" stroke="#555555" stroke-width="2" stroke-linecap="butt"/>
<line x1="1661" y1="831.3" x2="1672" y2="831.3" stroke="#555555" stroke-width="2" stroke-linecap="butt"/>
<rect x="1656.85" y="842.5" width="19.3" height="108.1" fill="#000000"/>
<line x1="1694.8" y1="890.6" x2="1694.8" y2="904.1" stroke="#555555" stroke-width="2" stroke-linecap="butt"/>
<line x1="1689.3" y1="890.6" x2="1700.3" y2="890.6" stroke="#555555" stroke-width="2" stroke-linecap="butt"/>
<rect x="1685.15" y="903.1" width="19.3" height="47.5" fill="#8FBEFA"/>
<line x1="1723.3" y1="859.4" x2="1723.3" y2="877.2" stroke="#555555" stroke-width="2" stroke-linecap="butt"/>
<line x1="1717.8" y1="859.4" x2="1728.8" y2="859.4" stroke="#555555" stroke-width="2" stroke-linecap="butt"/>
<rect x="1713.65" y="876.2" width="19.3" height="74.4" fill="#057D96"/>
<line x1="1751.5" y1="836.4" x2="1751.5" y2="862.2" stroke="#555555" stroke-width="2" stroke-linecap="butt"/>
<line x1="1746" y1="836.4" x2="1757" y2="836.4" stroke="#555555" stroke-width="2" stroke-linecap="butt"/>
<rect x="1741.85" y="861.2" width="19.3" height="89.4" fill="#ACDFAA"/>
<line x1="1779.5" y1="838.2" x2="1779.5" y2="862.6" stroke="#555555" stroke-width="2" stroke-linecap="butt"/>
<line x1="1774" y1="838.2" x2="1785" y2="838.2" stroke="#555555" stroke-width="2" stroke-linecap="butt"/>
<rect x="1769.85" y="861.6" width="19.3" height="89" fill="#FFE0C0"/>
<line x1="1807.9" y1="793.6" x2="1807.9" y2="808" stroke="#555555" stroke-width="2" stroke-linecap="butt"/>
<line x1="1802.4" y1="793.6" x2="1813.4" y2="793.6" stroke="#555555" stroke-width="2" stroke-linecap="butt"/>
<rect x="1798.25" y="807" width="19.3" height="143.6" fill="#FF8080"/>
<line x1="840.3" y1="650.1" x2="840.3" y2="952.1" stroke="#333" stroke-width="2.9" stroke-linecap="butt"/>
<line x1="823" y1="950.6" x2="1886" y2="950.6" stroke="#1c1c1c" stroke-width="3.4" stroke-linecap="butt"/>
<line x1="830" y1="850.9" x2="840.3" y2="850.9" stroke="#2b2b2b" stroke-width="2.8" stroke-linecap="butt"/>
<line x1="830" y1="751.2" x2="840.3" y2="751.2" stroke="#2b2b2b" stroke-width="2.8" stroke-linecap="butt"/>
<line x1="830" y1="651.5" x2="840.3" y2="651.5" stroke="#2b2b2b" stroke-width="2.8" stroke-linecap="butt"/>
<text x="886.1" y="711" font-family="'DejaVu Sans', sans-serif" font-size="12.5" font-weight="normal" text-anchor="middle" fill="#111" stroke="#111" stroke-width="0.35">★</text>
<text x="971" y="729.3" font-family="'DejaVu Sans', sans-serif" font-size="12.5" font-weight="normal" text-anchor="middle" fill="#111" stroke="#111" stroke-width="0.35">★</text>
<text x="1089.5" y="749.5" font-family="'DejaVu Sans', sans-serif" font-size="12.5" font-weight="normal" text-anchor="middle" fill="#111" stroke="#111" stroke-width="0.35">★</text>
<text x="1146.4" y="705.1" font-family="'DejaVu Sans', sans-serif" font-size="12.5" font-weight="normal" text-anchor="middle" fill="#111" stroke="#111" stroke-width="0.35">★</text>
<text x="1174.5" y="738.1" font-family="'DejaVu Sans', sans-serif" font-size="12.5" font-weight="normal" text-anchor="middle" fill="#111" stroke="#111" stroke-width="0.35">★</text>
<text x="1290.5" y="821.6" font-family="'DejaVu Sans', sans-serif" font-size="12.5" font-weight="normal" text-anchor="middle" fill="#111" stroke="#111" stroke-width="0.35">★</text>
<text x="1318.7" y="764.3" font-family="'DejaVu Sans', sans-serif" font-size="12.5" font-weight="normal" text-anchor="middle" fill="#111" stroke="#111" stroke-width="0.35">★</text>
<text x="1347.2" y="785.8" font-family="'DejaVu Sans', sans-serif" font-size="12.5" font-weight="normal" text-anchor="middle" fill="#111" stroke="#111" stroke-width="0.35">★</text>
<text x="1375.3" y="818.9" font-family="'DejaVu Sans', sans-serif" font-size="12.5" font-weight="normal" text-anchor="middle" fill="#111" stroke="#111" stroke-width="0.35">★</text>
<text x="1498.8" y="797.7" font-family="'DejaVu Sans', sans-serif" font-size="12.5" font-weight="normal" text-anchor="middle" fill="#111" stroke="#111" stroke-width="0.35">★</text>
<text x="1584" y="791.9" font-family="'DejaVu Sans', sans-serif" font-size="12.5" font-weight="normal" text-anchor="middle" fill="#111" stroke="#111" stroke-width="0.35">★</text>
<text x="1722.3" y="855.6" font-family="'DejaVu Sans', sans-serif" font-size="12.5" font-weight="normal" text-anchor="middle" fill="#111" stroke="#111" stroke-width="0.35">★</text>
<text x="1750.5" y="831.2" font-family="'DejaVu Sans', sans-serif" font-size="12.5" font-weight="normal" text-anchor="middle" fill="#111" stroke="#111" stroke-width="0.35">★</text>
<text x="1806.9" y="788" font-family="'DejaVu Sans', sans-serif" font-size="12.5" font-weight="normal" text-anchor="middle" fill="#111" stroke="#111" stroke-width="0.35">★</text>
<text x="822.5" y="963.9" font-family="'Liberation Sans', sans-serif" font-size="28" font-weight="normal" text-anchor="end" fill="#1c1c1c" stroke="#1c1c1c" stroke-width="0.6">0</text>
<text x="822.5" y="859.9" font-family="'Liberation Sans', sans-serif" font-size="28" font-weight="normal" text-anchor="end" fill="#1c1c1c" stroke="#1c1c1c" stroke-width="0.6">1</text>
<text x="822.5" y="760.2" font-family="'Liberation Sans', sans-serif" font-size="28" font-weight="normal" text-anchor="end" fill="#1c1c1c" stroke="#1c1c1c" stroke-width="0.6">2</text>
<text x="822.5" y="660.5" font-family="'Liberation Sans', sans-serif" font-size="28" font-weight="normal" text-anchor="end" fill="#1c1c1c" stroke="#1c1c1c" stroke-width="0.6">3</text>
<text x="921" y="980.2" font-family="'Liberation Sans', sans-serif" font-size="25.5" font-weight="normal" text-anchor="middle" fill="#111" stroke="#111" stroke-width="0.4">Polymers</text>
<text x="1133" y="980.2" font-family="'Liberation Sans', sans-serif" font-size="25.5" font-weight="normal" text-anchor="middle" fill="#111" stroke="#111" stroke-width="0.4">Carbohydrates</text>
<text x="1335" y="980.2" font-family="'Liberation Sans', sans-serif" font-size="25.5" font-weight="normal" text-anchor="middle" fill="#111" stroke="#111" stroke-width="0.4">Carboxylic and</text>
<text x="1335" y="1011" font-family="'Liberation Sans', sans-serif" font-size="25.5" font-weight="normal" text-anchor="middle" fill="#111" stroke="#111" stroke-width="0.4">Acetic acids</text>
<text x="1546.7" y="980.2" font-family="'Liberation Sans', sans-serif" font-size="25.5" font-weight="normal" text-anchor="middle" fill="#111" stroke="#111" stroke-width="0.4">Amino Acids</text>
<text x="1744.4" y="980.2" font-family="'Liberation Sans', sans-serif" font-size="25.5" font-weight="normal" text-anchor="middle" fill="#111" stroke="#111" stroke-width="0.4">Amines and</text>
<text x="1744.4" y="1011" font-family="'Liberation Sans', sans-serif" font-size="25.5" font-weight="normal" text-anchor="middle" fill="#111" stroke="#111" stroke-width="0.4">Amides</text>
<text transform="translate(792.3,797) rotate(-90)" font-family="'Liberation Serif', serif" font-size="22.8" font-weight="bold" text-anchor="middle" fill="#1a1a1a">Optical density (590 nm)</text>
<text x="1341" y="1097.2" font-family="'Liberation Serif', serif" font-size="44" font-weight="normal" text-anchor="middle" fill="#111" stroke="#111" stroke-width="0.5">(d)</text>
<line x1="289.7" y1="1176.6" x2="324.4" y2="1176.6" stroke="#000000" stroke-width="4.6" stroke-linecap="butt"/>
<circle cx="307" cy="1176.2" r="10.6" fill="#000000"/>
<text x="332.6" y="1186.6" font-family="'Liberation Serif', serif" font-size="34" font-weight="normal" text-anchor="start" fill="#000" textLength="115.2" lengthAdjust="spacingAndGlyphs" stroke="#000" stroke-width="0.6">Standard</text>
<line x1="526.3" y1="1172.8" x2="561" y2="1172.8" stroke="#8FBEFA" stroke-width="4.6" stroke-linecap="butt"/>
<rect x="531.9" y="1162.5" width="23.5" height="21.6" fill="#8FBEFA"/>
<text x="572.2" y="1185.4" font-family="'Liberation Serif', serif" font-size="34" font-weight="normal" text-anchor="start" fill="#000" textLength="150.8" lengthAdjust="spacingAndGlyphs" stroke="#000" stroke-width="0.6">15ºC−25°C</text>
<line x1="788.8" y1="1172.8" x2="823.6" y2="1172.8" stroke="#057D96" stroke-width="4.6" stroke-linecap="butt"/>
<polygon points="806.5,1161.5 818,1184.7 795,1184.7" fill="#057D96"/>
<text x="841.6" y="1184.2" font-family="'Liberation Serif', serif" font-size="34" font-weight="normal" text-anchor="start" fill="#000" textLength="150.2" lengthAdjust="spacingAndGlyphs" stroke="#000" stroke-width="0.6">20ºC−30°C</text>
<line x1="1061.3" y1="1169.7" x2="1096.4" y2="1169.7" stroke="#ACDFAA" stroke-width="4.6" stroke-linecap="butt"/>
<polygon points="1066.8,1158.8 1090.9,1158.8 1078.9,1181.4" fill="#ACDFAA"/>
<text x="1107" y="1181.5" font-family="'Liberation Serif', serif" font-size="34" font-weight="normal" text-anchor="start" fill="#000" textLength="79" lengthAdjust="spacingAndGlyphs" stroke="#000" stroke-width="0.6">Flood</text>
<line x1="1267.9" y1="1171.9" x2="1302.2" y2="1171.9" stroke="#FFE0C0" stroke-width="4.6" stroke-linecap="butt"/>
<polygon points="1285.3,1160.7 1295.3,1171.9 1285.3,1183.1 1275.3,1171.9" fill="#FFE0C0"/>
<text x="1308.4" y="1181.7" font-family="'Liberation Serif', serif" font-size="34" font-weight="normal" text-anchor="start" fill="#000" textLength="104.4" lengthAdjust="spacingAndGlyphs" stroke="#000" stroke-width="0.6">Drought</text>
<line x1="1492" y1="1171" x2="1527.8" y2="1171" stroke="#FF8080" stroke-width="5.4" stroke-linecap="butt"/>
<circle cx="1510" cy="1171" r="14" fill="#FF8080"/>
<text x="1544.2" y="1183" font-family="'Liberation Serif', serif" font-size="34" font-weight="normal" text-anchor="start" fill="#000" textLength="48" lengthAdjust="spacingAndGlyphs" stroke="#000" stroke-width="0.6">UV</text>
</g>
</svg>
</body></html>
